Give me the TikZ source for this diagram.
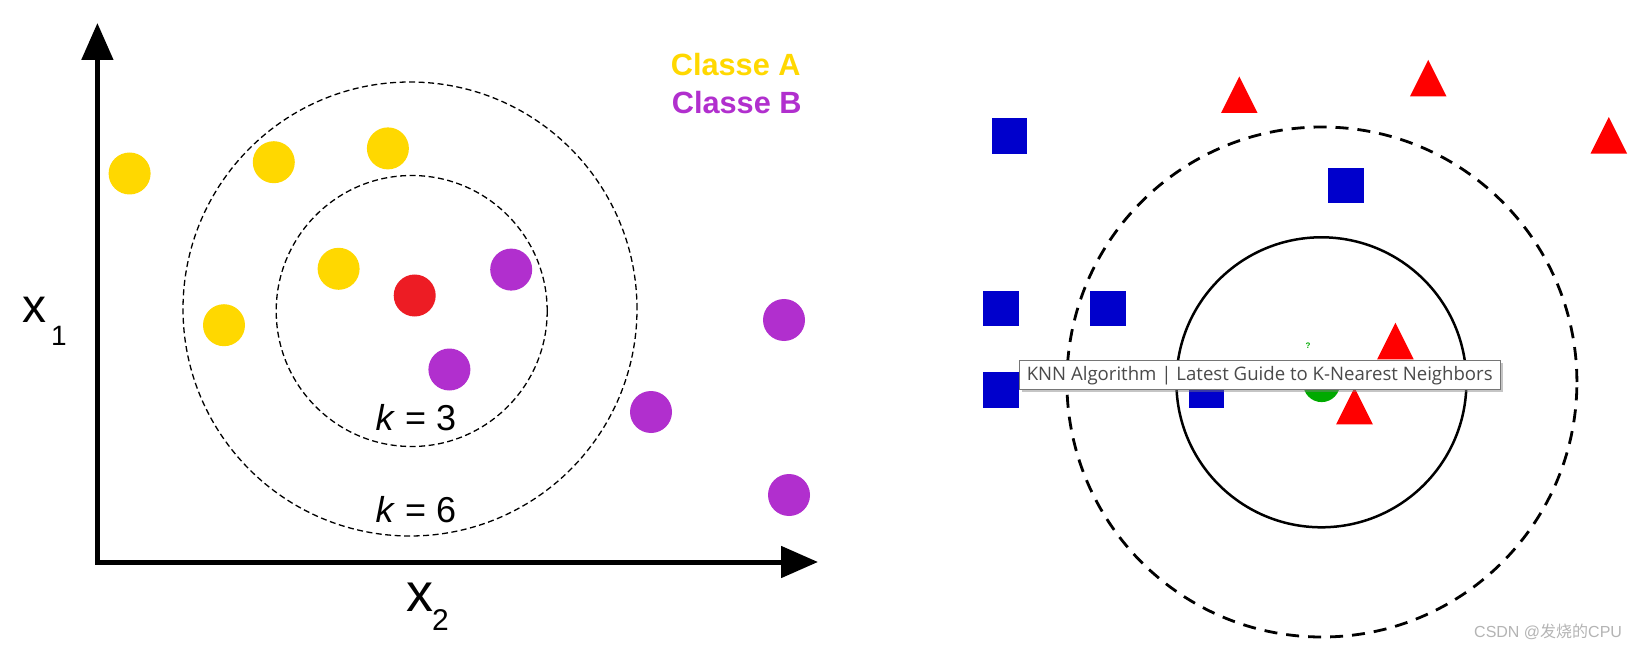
\documentclass[tikz,border=0pt]{standalone}
\usepackage{fontspec}
\setmainfont{Liberation Sans}
\newfontfamily\tipfont{Open Sans}
\newfontfamily\cjkfont{Noto Sans CJK SC}
\usetikzlibrary{arrows.meta,shadows}
\definecolor{dotyellow}{HTML}{FFD800}
\definecolor{dotpurple}{HTML}{B12FCE}
\definecolor{dotred}{HTML}{ED1C24}
\definecolor{sqblue}{HTML}{0000CC}
\definecolor{trired}{HTML}{FF0000}
\definecolor{qgreen}{HTML}{00AA00}
\definecolor{tipborder}{HTML}{767676}
\definecolor{tiptext}{HTML}{4A4A4A}
\definecolor{wmgray}{HTML}{B4B4B4}
\begin{document}
\begin{tikzpicture}[x=1pt,y=-1pt,
  dot/.style={circle,inner sep=0pt,minimum size=42pt},
  ydot/.style={dot,fill=dotyellow},
  pdot/.style={dot,fill=dotpurple},
  rdot/.style={dot,fill=dotred},
  sq/.style={rectangle,inner sep=0pt,minimum size=35.5pt,fill=sqblue},
  tri/.pic={\fill[trired] (-18.3,18.3) -- (0,-18.3) -- (18.3,18.3) -- cycle;},
  lbl/.style={inner sep=0pt,anchor=base west},
  thinring/.style={circle,draw,inner sep=0pt,line width=1.3pt,dash pattern=on 6pt off 3.5pt},
  axisarrow/.style={line width=5pt,{Triangle[width=31pt,length=37pt]}-{Triangle[width=31pt,length=37pt]}},
]
\fill[white] (0,0) rectangle (1638,652);
\useasboundingbox (0,0) rectangle (1638,652);

% ---------- left panel ----------
\coordinate (ytip) at (97.4,23);
\coordinate (orig) at (97.4,562);
\coordinate (xtip) at (818,562);
\draw[axisarrow] (ytip) -- (orig) -- (xtip);

\node[lbl,font=\fontsize{48}{48}\selectfont] (x1) at (22,323) {x};
\node[lbl,font=\fontsize{28}{28}\selectfont] (x1s) at (51,345) {1};
\node[lbl,font=\fontsize{54}{54}\selectfont] (x2) at (406,611.7) {x};
\node[lbl,font=\fontsize{30}{30}\selectfont] (x2s) at (432,630) {2};

\node[lbl,font=\fontsize{30.7}{30.7}\selectfont\bfseries,text=dotyellow] (ca) at (670.7,76) {Classe A};
\node[lbl,font=\fontsize{30.7}{30.7}\selectfont\bfseries,text=dotpurple] (cb) at (671.7,113.3) {Classe B};

\node[thinring,minimum size=454pt] (k6) at (410,309) {};
\node[thinring,minimum size=271pt] (k3) at (411.7,311) {};

\node[ydot] (y1) at (129.6,173.5) {};
\node[ydot] (y2) at (273.8,162.2) {};
\node[ydot] (y3) at (387.9,148.4) {};
\node[ydot] (y4) at (338.6,268.8) {};
\node[ydot] (y5) at (224,325.2) {};
\node[rdot] (q) at (414.7,295.5) {};
\node[pdot] (p1) at (511.2,269.6) {};
\node[pdot] (p2) at (449.4,369.5) {};
\node[pdot] (p3) at (651,412) {};
\node[pdot] (p4) at (784,320) {};
\node[pdot] (p5) at (789,495) {};

\node[inner sep=0pt,anchor=base,font=\fontsize{36}{36}\selectfont] (lk3) at (416,430.5) {\textit{k} = 3};
\node[inner sep=0pt,anchor=base,font=\fontsize{36}{36}\selectfont] (lk6) at (416,522.5) {\textit{k} = 6};

% ---------- right panel ----------
\node[circle,draw,inner sep=0pt,line width=2.8pt,dash pattern=on 13pt off 9pt,minimum size=510pt] (outer) at (1321.9,382) {};
\node[circle,draw,inner sep=0pt,line width=2.5pt,minimum size=290pt] (inner) at (1321.4,382.3) {};

\node[sq] (s1) at (1009.4,136) {};
\node[sq] (s2) at (1346,185.4) {};
\node[sq] (s3) at (1000.8,308.3) {};
\node[sq] (s4) at (1107.8,308.3) {};
\node[sq] (s5) at (1000.8,390.2) {};
\node[sq] (s6) at (1206.5,390) {};

\pic (t1) at (1239.3,94.7) {tri};
\pic (t2) at (1428.2,78.2) {tri};
\pic (t3) at (1608.8,135.4) {tri};
\pic (t4) at (1395.4,341) {tri};
\pic (t5) at (1354.5,406) {tri};

\node[circle,inner sep=0pt,minimum size=36.8pt,fill=qgreen] (g) at (1321.6,383.7) {};
\node[inner sep=0pt,text=qgreen,font=\fontsize{8}{8}\selectfont\bfseries] (qm) at (1308,346) {?};

\node[draw=tipborder,fill=white,line width=1pt,inner sep=0pt,minimum width=480.6pt,minimum height=28.9pt,
  drop shadow={shadow xshift=2.5pt,shadow yshift=-2.5pt,fill=gray,opacity=0.45},
  font=\tipfont\fontsize{18.6}{22}\selectfont,text=tiptext] (tip) at (1259.7,375.2)
  {KNN Algorithm | Latest Guide to K-Nearest Neighbors};

\node[lbl,text=wmgray,font=\fontsize{16}{16}\selectfont] (wm) at (1474,637.3) {CSDN @{\cjkfont 发烧的}CPU};
\end{tikzpicture}
\end{document}
